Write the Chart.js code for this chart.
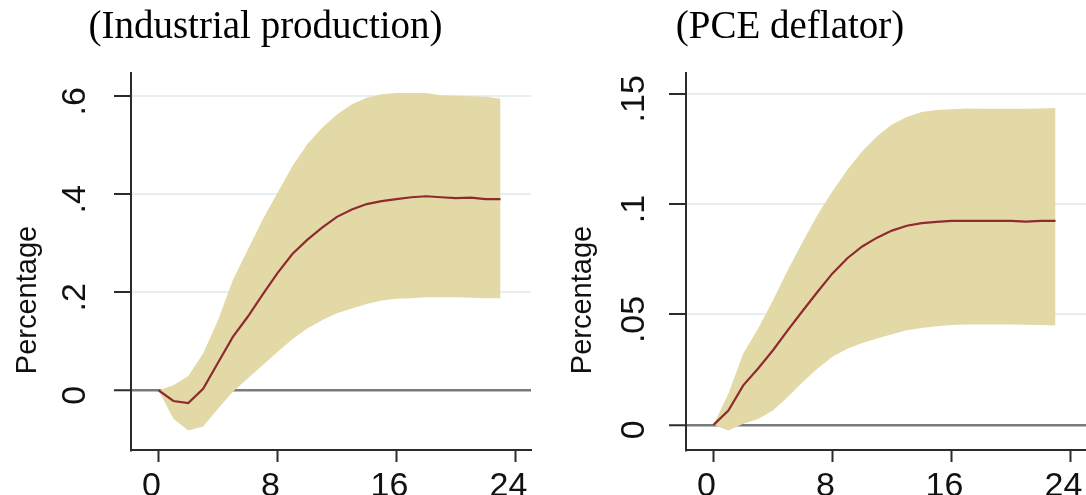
<!DOCTYPE html>
<html>
<head>
<meta charset="utf-8">
<title>Impulse responses</title>
<script src="https://cdn.jsdelivr.net/npm/chart.js@4/dist/chart.umd.min.js"></script>
<style>
  html, body { margin: 0; padding: 0; background: #fff; }
  body { width: 1086px; height: 495px; position: relative; overflow: hidden; }
  .panel { position: absolute; top: 0; height: 495px; }
  #ipBox { left: 0; width: 543px; }
  #pceBox { left: 494px; width: 592px; }
</style>
</head>
<body>
<div class="panel" id="ipBox"><canvas id="ipChart" width="543" height="495"></canvas></div>
<div class="panel" id="pceBox"><canvas id="pceChart" width="592" height="495"></canvas></div>
<script>
// months after the shock
const horizons = [0, 1, 2, 3, 4, 5, 6, 7, 8, 9, 10, 11, 12, 13, 14, 15, 16, 17, 18, 19, 20, 21, 22, 23];

// industrial production: point response and band
const ipResponse = [0, -0.022, -0.026, 0.003, 0.056, 0.109, 0.150, 0.195, 0.239, 0.278, 0.307, 0.332,
                    0.354, 0.369, 0.380, 0.386, 0.390, 0.394, 0.396, 0.394, 0.392, 0.393, 0.390, 0.390];
const ipUpper = [0, 0.010, 0.029, 0.075, 0.143, 0.225, 0.287, 0.348, 0.403, 0.457, 0.502, 0.536,
                 0.563, 0.584, 0.597, 0.604, 0.607, 0.607, 0.607, 0.602, 0.601, 0.600, 0.599, 0.595];
const ipLower = [0, -0.058, -0.082, -0.074, -0.038, -0.003, 0.024, 0.051, 0.078, 0.104, 0.126, 0.143,
                 0.157, 0.167, 0.176, 0.183, 0.187, 0.188, 0.190, 0.190, 0.190, 0.189, 0.188, 0.188];

// PCE deflator: point response and band
const pceResponse = [0, 0.0065, 0.0179, 0.0255, 0.0338, 0.0429, 0.0517, 0.0603, 0.0686, 0.0755, 0.0808, 0.0848,
                     0.0880, 0.0902, 0.0914, 0.0920, 0.0924, 0.0924, 0.0924, 0.0924, 0.0924, 0.0921, 0.0924, 0.0924];
const pceUpper = [0, 0.0141, 0.0323, 0.0436, 0.0565, 0.0702, 0.0830, 0.0952, 0.1058, 0.1156, 0.1239, 0.1308,
                  0.1361, 0.1395, 0.1417, 0.1427, 0.1430, 0.1433, 0.1432, 0.1432, 0.1432, 0.1432, 0.1433, 0.1436];
const pceLower = [0, -0.0026, 0.0005, 0.0027, 0.0065, 0.0126, 0.0194, 0.0255, 0.0308, 0.0345, 0.0371, 0.0391,
                  0.0411, 0.0429, 0.0439, 0.0447, 0.0452, 0.0455, 0.0455, 0.0455, 0.0455, 0.0453, 0.0452, 0.0450];

// axis ticks
const xTicks = [0, 8, 16, 24];
const ipTicks = [0, 0.2, 0.4, 0.6];
const ipTickLabels = ['0', '.2', '.4', '.6'];
const pceTicks = [0, 0.05, 0.1, 0.15];
const pceTickLabels = ['0', '.05', '.1', '.15'];

const sans = '"Liberation Sans", Arial, sans-serif';
const serif = '"Liberation Serif", "Times New Roman", serif';
const bandColor = '#e3d9a6';
const lineColor = '#8e2b2e';
const axisColor = '#2b2b2b';

const pts = vals => horizons.map((h, i) => ({ x: h, y: vals[i] }));

// rotated "Percentage" label, placed like the Stata original
const yTitlePlugin = {
  id: 'yTitle',
  afterDraw(chart, args, opts) {
    const { ctx, chartArea } = chart;
    ctx.save();
    ctx.translate(chartArea.left - 103, chartArea.bottom - 150);
    ctx.rotate(-Math.PI / 2);
    ctx.font = '29px ' + sans;
    ctx.fillStyle = '#111';
    ctx.textAlign = 'center';
    ctx.textBaseline = 'middle';
    ctx.fillText(opts.text, 0, 0);
    ctx.restore();
  }
};

function makeChart(id, cfg) {
  const ctx = document.getElementById(id).getContext('2d');
  return new Chart(ctx, {
    type: 'line',
    data: {
      datasets: [
        { data: pts(cfg.response), borderColor: lineColor, borderWidth: 2.2, pointRadius: 0, fill: false, tension: 0 },
        { data: pts(cfg.upper), borderColor: 'transparent', borderWidth: 0, pointRadius: 0,
          backgroundColor: bandColor, fill: '+1', tension: 0 },
        { data: pts(cfg.lower), borderColor: 'transparent', borderWidth: 0, pointRadius: 0, fill: false, tension: 0 }
      ]
    },
    options: {
      responsive: false,
      animation: false,
      devicePixelRatio: 1,
      events: [],
      layout: { padding: { left: 0, right: cfg.padRight, top: 0, bottom: 0 } },
      plugins: {
        legend: { display: false },
        tooltip: { enabled: false },
        title: {
          display: true,
          text: cfg.title,
          color: '#000',
          font: { family: serif, size: 39, weight: 'normal' },
          padding: { top: 4, bottom: 22 }
        },
        yTitle: { text: 'Percentage' }
      },
      scales: {
        x: {
          type: 'linear',
          min: -1.85,
          max: 25.05,
          afterBuildTicks: s => { s.ticks = xTicks.map(v => ({ value: v })); },
          afterFit: s => { s.height = 45; s.paddingLeft = 0; s.paddingRight = 0; },
          grid: { drawOnChartArea: false, tickLength: 12, tickColor: axisColor, tickWidth: 2 },
          border: { color: axisColor, width: 2 },
          ticks: { font: { family: sans, size: 34 }, color: '#111', padding: 4, labelOffset: -7,
                   maxRotation: 0, autoSkip: false }
        },
        y: {
          type: 'linear',
          min: cfg.yMin,
          max: cfg.yMax,
          afterBuildTicks: s => { s.ticks = cfg.yTicks.map(v => ({ value: v })); },
          afterFit: s => { s.width = cfg.axisWidth; s.paddingTop = 0; s.paddingBottom = 0; },
          grid: {
            color: c => (c.tick && c.tick.value === 0 ? '#7a7a7a' : '#e6eef0'),
            lineWidth: c => (c.tick && c.tick.value === 0 ? 2.5 : 2),
            tickLength: 17,
            tickColor: axisColor,
            tickWidth: 2
          },
          border: { color: axisColor, width: 2 },
          ticks: {
            callback: (v, i) => cfg.yLabels[i],
            font: { family: sans, size: 34 },
            color: '#111',
            minRotation: 90,
            maxRotation: 90,
            crossAlign: 'center',
            padding: cfg.tickPad,
            labelOffset: 5,
            autoSkip: false
          }
        }
      }
    },
    plugins: [yTitlePlugin]
  });
}

makeChart('ipChart', {
  title: '(Industrial production)',
  response: ipResponse, upper: ipUpper, lower: ipLower,
  yMin: -0.122, yMax: 0.648, yTicks: ipTicks, yLabels: ipTickLabels,
  axisWidth: 131, padRight: 12, tickPad: 24
});

makeChart('pceChart', {
  title: '(PCE deflator)',
  response: pceResponse, upper: pceUpper, lower: pceLower,
  yMin: -0.0114, yMax: 0.1595, yTicks: pceTicks, yLabels: pceTickLabels,
  axisWidth: 192, padRight: 0, tickPad: 11
});
</script>
</body>
</html>
